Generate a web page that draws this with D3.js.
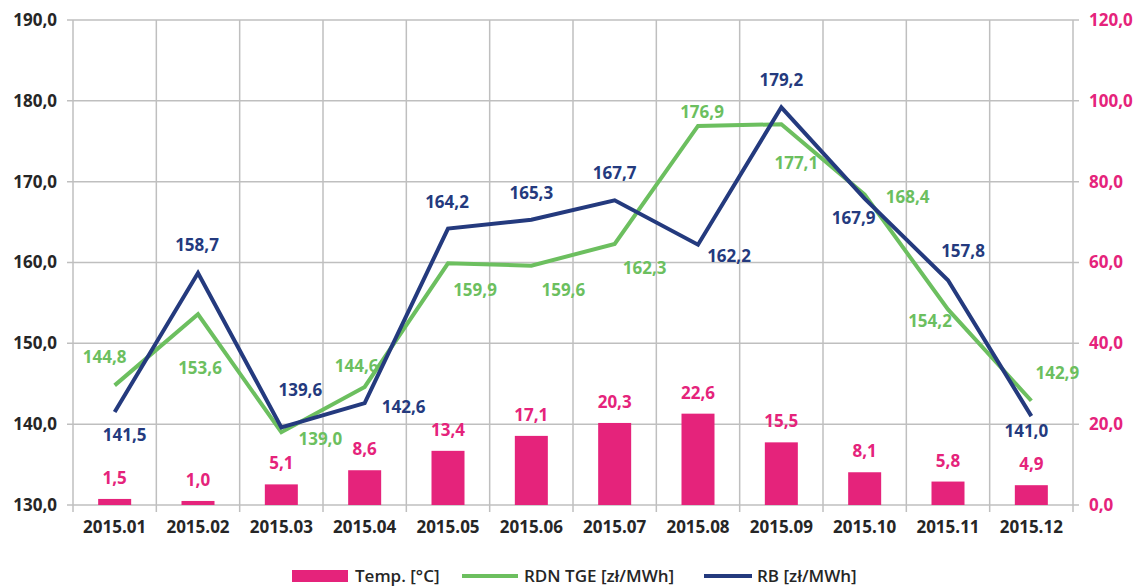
<!DOCTYPE html>
<html>
<head>
<meta charset="utf-8">
<script src="https://cdn.jsdelivr.net/npm/d3@7"></script>
<style>
  body { margin: 0; background: #fff; }
  text { font-family: "Open Sans", sans-serif; font-weight: 700; }
</style>
</head>
<body>
<svg width="1140" height="586"></svg>
<script>
var months = ["2015.01","2015.02","2015.03","2015.04","2015.05","2015.06",
              "2015.07","2015.08","2015.09","2015.10","2015.11","2015.12"];
var temp = [1.5, 1.0, 5.1, 8.6, 13.4, 17.1, 20.3, 22.6, 15.5, 8.1, 5.8, 4.9];
var rdn  = [144.8, 153.6, 139.0, 144.6, 159.9, 159.6, 162.3, 176.9, 177.1, 168.4, 154.2, 142.9];
var rb   = [141.5, 158.7, 139.6, 142.6, 164.2, 165.3, 167.7, 162.2, 179.2, 167.9, 157.8, 141.0];
var leftTicks  = [130, 140, 150, 160, 170, 180, 190];
var rightTicks = [0, 20, 40, 60, 80, 100, 120];

// label nudges (Excel placed these by hand-ish)
var rdnNudge = [[-10,-28],[2,54],[39,7],[-8,-21],[27,27],[32,24],[30,24],[4,-14],[15,39],[43,2],[-18,12],[26,-28]];
var rbNudge  = [[10,23],[-1,-28],[19,-37],[39,4],[-1,-27],[0,-27],[0,-27],[31,11],[0,-27],[-11,19],[15,-29],[-5,15]];

var pink = "#e5237b", green = "#6cbf5f", blue = "#243a7e";
var fmt = function(v) { return d3.format(".1f")(v).replace(".", ","); };

var svg = d3.select("svg");
var pLeft = 73, pRight = 1073, pTop = 20, pBottom = 505;

var x = d3.scaleBand().domain(months).range([pLeft, pRight]);
var y = d3.scaleLinear().domain([130, 190]).range([pBottom, pTop]);
var y2 = d3.scaleLinear().domain([0, 120]).range([pBottom, pTop]);

//////////////////
// grid
//////////////////
svg.append("g").selectAll("line.h")
    .data(leftTicks)
    .enter().append("line")
    .attr("x1", pLeft - 6).attr("x2", pRight + 6)
    .attr("y1", function(d) { return y(d); })
    .attr("y2", function(d) { return y(d); })
    .style("stroke", "#bfbfbf").style("stroke-width", 1.5);

var vx = months.map(function(m) { return x(m); }).concat([pRight]);
svg.append("g").selectAll("line.v")
    .data(vx)
    .enter().append("line")
    .attr("x1", function(d) { return d; }).attr("x2", function(d) { return d; })
    .attr("y1", pTop).attr("y2", pBottom + 7)
    .style("stroke", "#bfbfbf").style("stroke-width", 1.5);

//////////////////
// axes labels
//////////////////
svg.append("g").selectAll("text")
    .data(leftTicks)
    .enter().append("text")
    .attr("x", 57).attr("y", function(d) { return y(d); })
    .attr("dy", "0.35em").attr("text-anchor", "end")
    .style("font-size", "17px").style("fill", "#262626")
    .text(fmt);

svg.append("g").selectAll("text")
    .data(rightTicks)
    .enter().append("text")
    .attr("x", 1089).attr("y", function(d) { return y2(d); })
    .attr("dy", "0.35em").attr("text-anchor", "start")
    .style("font-size", "17px").style("fill", pink)
    .text(fmt);

svg.append("g").selectAll("text")
    .data(months)
    .enter().append("text")
    .attr("x", function(d) { return x(d) + x.bandwidth() / 2; })
    .attr("y", 527).attr("dy", "0.35em").attr("text-anchor", "middle")
    .style("font-size", "17px").style("fill", "#262626")
    .text(function(d) { return d; });

//////////////////
// bars
//////////////////
var bw = 33;
svg.append("g").selectAll("rect")
    .data(temp)
    .enter().append("rect")
    .attr("x", function(d, i) { return x(months[i]) + x.bandwidth() / 2 - bw / 2; })
    .attr("y", function(d) { return y2(d); })
    .attr("width", bw)
    .attr("height", function(d) { return pBottom - y2(d); })
    .style("fill", pink);

svg.append("g").selectAll("text")
    .data(temp)
    .enter().append("text")
    .attr("x", function(d, i) { return x(months[i]) + x.bandwidth() / 2; })
    .attr("y", function(d) { return y2(d) - 21; })
    .attr("dy", "0.35em").attr("text-anchor", "middle")
    .style("font-size", "17px").style("fill", pink)
    .text(fmt);

//////////////////
// lines
//////////////////
var line = d3.line()
    .x(function(d, i) { return x(months[i]) + x.bandwidth() / 2; })
    .y(function(d) { return y(d); });

svg.append("path").datum(rdn)
    .attr("d", line)
    .style("fill", "none").style("stroke", green).style("stroke-width", 4)
    .style("stroke-linejoin", "miter");

svg.append("path").datum(rb)
    .attr("d", line)
    .style("fill", "none").style("stroke", blue).style("stroke-width", 4)
    .style("stroke-linejoin", "miter");

function pointLabels(vals, nudge, color) {
    svg.append("g").selectAll("text")
        .data(vals)
        .enter().append("text")
        .attr("x", function(d, i) { return x(months[i]) + x.bandwidth() / 2 + nudge[i][0]; })
        .attr("y", function(d, i) { return y(d) + nudge[i][1]; })
        .attr("dy", "0.35em").attr("text-anchor", "middle")
        .style("font-size", "17px").style("fill", color)
        .text(fmt);
}
pointLabels(rdn, rdnNudge, green);
pointLabels(rb, rbNudge, blue);

//////////////////
// legend
//////////////////
var legend = svg.append("g");
var ly = 576;
legend.append("rect").attr("x", 292).attr("y", ly - 6).attr("width", 56).attr("height", 12).style("fill", pink);
legend.append("text").attr("x", 355).attr("y", ly).attr("dy", "0.35em")
    .style("font-size", "17px").style("font-weight", 600).style("fill", "#262626").text("Temp. [°C]");
legend.append("line").attr("x1", 462).attr("x2", 518).attr("y1", ly).attr("y2", ly)
    .style("stroke", green).style("stroke-width", 4);
legend.append("text").attr("x", 524).attr("y", ly).attr("dy", "0.35em")
    .style("font-size", "17px").style("font-weight", 600).style("fill", "#262626").text("RDN TGE [zł/MWh]");
legend.append("line").attr("x1", 704).attr("x2", 752).attr("y1", ly).attr("y2", ly)
    .style("stroke", blue).style("stroke-width", 4);
legend.append("text").attr("x", 757).attr("y", ly).attr("dy", "0.35em")
    .style("font-size", "17px").style("font-weight", 600).style("fill", "#262626").text("RB [zł/MWh]");
</script>
</body>
</html>
